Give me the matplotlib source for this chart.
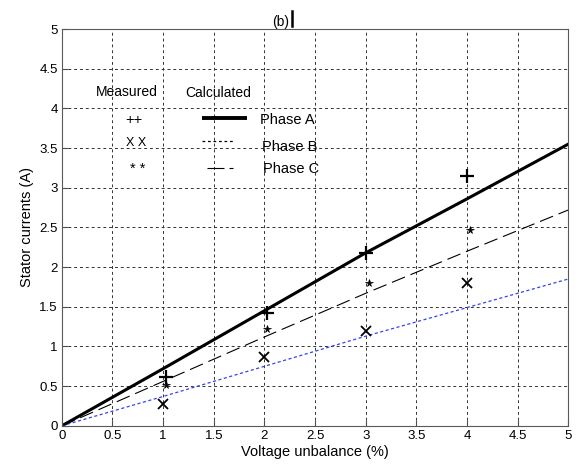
import matplotlib
matplotlib.use("Agg")
import matplotlib.pyplot as plt

plt.rcParams['font.family'] = ['Liberation Sans', 'DejaVu Sans']

x_calc = [0, 1, 2, 3, 4, 5]
phase_a = [0, 0.72, 1.45, 2.18, 2.86, 3.55]
phase_b = [0, 0.37, 0.75, 1.13, 1.49, 1.85]
phase_c = [0, 0.56, 1.12, 1.67, 2.2, 2.72]

x_meas_a = [1.03, 2.03, 3.0, 4.0]
meas_a = [0.62, 1.42, 2.18, 3.15]
x_meas_b = [1.0, 2.0, 3.0, 4.0]
meas_b = [0.28, 0.87, 1.2, 1.8]
x_meas_c = [1.03, 2.03, 3.03, 4.03]
meas_c = [0.52, 1.22, 1.8, 2.47]

xticks = [0, 0.5, 1, 1.5, 2, 2.5, 3, 3.5, 4, 4.5, 5]
yticks = [0, 0.5, 1, 1.5, 2, 2.5, 3, 3.5, 4, 4.5, 5]

FS = 10.5
fig = plt.figure(figsize=(5.78, 4.70), dpi=100)
ax = fig.add_axes([0.107, 0.094, 0.876, 0.844])

ax.plot(x_calc, phase_a, color='black', lw=2.2)
ax.plot(x_calc, phase_b, color='#3344ee', lw=0.9, ls=(0, (2.5, 2)))
ax.plot(x_calc, phase_c, color='black', lw=0.8, ls=(0, (12.6, 5.4)))

ax.plot(x_meas_a, meas_a, ls='none', marker='+', ms=9.5, mew=1.6, color='black')
ax.plot(x_meas_b, meas_b, ls='none', marker='x', ms=7, mew=1.3, color='black')
ax.plot(x_meas_c, meas_c, ls='none', marker='*', ms=5.5, mew=0.5, color='black')

# legend drawn manually
ax.text(0.34, 4.21, 'Measured', fontsize=FS - 0.5, va='center')
ax.text(1.22, 4.19, 'Calculated', fontsize=FS - 0.5, va='center')
ax.text(0.63, 3.86, '++', fontsize=FS, va='center')
ax.text(0.63, 3.56, 'X X', fontsize=FS - 1.5, va='center')
ax.text(0.67, 3.24, '* *', fontsize=FS, va='center')
ax.plot([1.38, 1.83], [3.88, 3.88], color='black', lw=2.8, solid_capstyle='butt')
ax.plot([1.38, 1.70], [3.59, 3.59], color='black', lw=0.9, ls=(0, (2.2, 2.2)))
ax.plot([1.43, 1.69], [3.25, 3.25], color='black', lw=0.8, ls=(0, (15.3, 4.5)))
ax.text(1.96, 3.86, 'Phase A', fontsize=FS, va='center')
ax.text(1.98, 3.52, 'Phase B', fontsize=FS, va='center')
ax.text(1.99, 3.24, 'Phase C', fontsize=FS, va='center')

ax.set_xlim(0, 5)
ax.set_ylim(0, 5)
ax.set_xticks(xticks)
ax.set_yticks(yticks)
ax.set_xticklabels([f'{v:g}' for v in xticks])
ax.set_yticklabels([f'{v:g}' for v in yticks])
ax.tick_params(direction='in', length=4, labelsize=9.5, color='0.3', pad=3)
ax.grid(True, color='0.2', ls=(0, (3, 3)), lw=0.7)
for s in ax.spines.values():
    s.set_color('0.35')
    s.set_linewidth(0.8)

ax.set_xlabel('Voltage unbalance (%)', fontsize=FS, labelpad=2)
ax.set_ylabel('Stator currents (A)', fontsize=FS, labelpad=4)
fig.text(0.485, 0.945, '(b)', fontsize=FS - 0.5, ha='center', va='baseline')
fig.lines.append(plt.Line2D([0.505, 0.505], [0.944, 0.976], color='black',
                            lw=1.8, transform=fig.transFigure))

fig.savefig('out.png', dpi=100)
